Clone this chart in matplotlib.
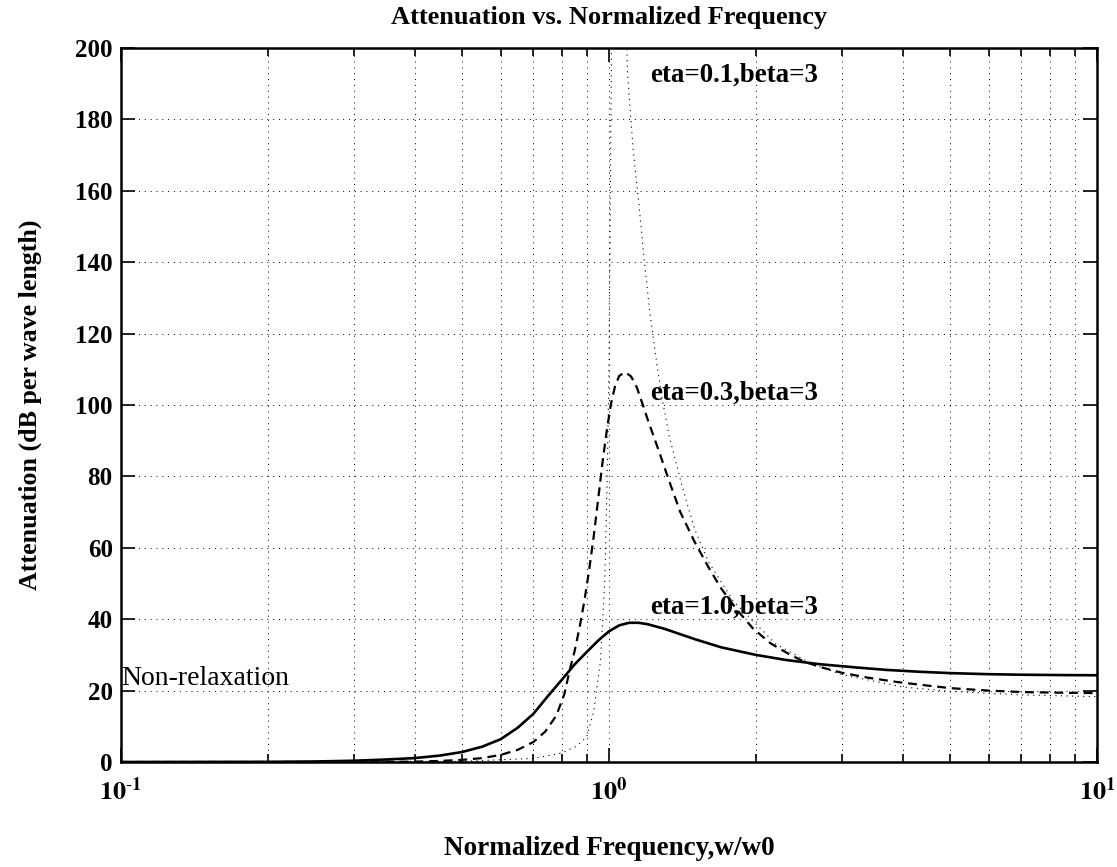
import numpy as np
import matplotlib
matplotlib.use("Agg")
import matplotlib.pyplot as plt
from matplotlib.ticker import FixedLocator, NullFormatter

plt.rcParams['font.family'] = ['Liberation Serif', 'DejaVu Serif']
plt.rcParams['mathtext.fontset'] = 'stix'

# values (normalized frequency w/w0, attenuation in dB per wavelength)
freq_eta10 = [0.1, 0.2, 0.25, 0.3, 0.35, 0.4, 0.45, 0.5, 0.55, 0.6, 0.65, 0.7, 0.75, 0.8,
              0.85, 0.9, 0.95, 1.0, 1.05, 1.1, 1.15, 1.2, 1.3, 1.4, 1.5, 1.7, 2.0, 2.3,
              2.7, 3.2, 3.7, 4.3, 5.0, 6.0, 7.0, 8.5, 10.0]
atten_eta10 = [0.0, 0.05, 0.15, 0.35, 0.7, 1.1, 1.8, 2.8, 4.3, 6.4, 9.6, 13.5, 18.5, 23.0,
               27.3, 30.8, 34.0, 36.6, 38.3, 39.0, 39.0, 38.6, 37.3, 35.8, 34.4, 32.1, 30.0,
               28.6, 27.4, 26.5, 25.8, 25.3, 24.9, 24.6, 24.45, 24.35, 24.3]

freq_eta03 = [0.1, 0.3, 0.4, 0.45, 0.5, 0.55, 0.6, 0.65, 0.7, 0.74, 0.78, 0.81, 0.83,
              0.85, 0.87, 0.89, 0.91, 0.93, 0.95, 0.97, 0.99, 1.01, 1.03, 1.05, 1.08, 1.11,
              1.14, 1.17, 1.2, 1.27, 1.33, 1.4, 1.5, 1.6, 1.7, 1.83, 1.97, 2.14, 2.32, 2.5,
              2.71, 3.0, 3.4, 3.9, 4.5, 5.0, 6.0, 7.0, 8.5, 10.0]
atten_eta03 = [0.0, 0.0, 0.1, 0.3, 0.6, 1.1, 2.0, 3.4, 5.6, 8.5, 13.0, 19.0, 25.5,
               31.0, 37.5, 45.0, 53.5, 63.0, 73.5, 84.0, 93.0, 100.5, 105.5, 108.2, 109.2,
               108.0, 105.0, 100.5, 96.0, 86.5, 78.5, 70.0, 61.5, 54.5, 48.5, 42.6, 37.5,
               33.3, 30.5, 28.2, 26.6, 25.0, 23.6, 22.4, 21.4, 20.7, 20.0, 19.6, 19.4, 19.3]

freq_eta01 = [0.1, 0.5, 0.7, 0.8, 0.86, 0.9, 0.93, 0.96, 0.98, 0.99, 1.0, 1.012, 1.03,
              1.05, 1.07, 1.09, 1.12, 1.15, 1.18, 1.21, 1.24, 1.28, 1.33, 1.42, 1.5, 1.6,
              1.8, 2.2, 2.6, 3.0, 4.0, 5.0, 7.0, 10.0]
atten_eta01 = [0.0, 0.2, 1.0, 2.5, 4.5, 7.0, 14.0, 28.0, 50.0, 75.0, 110.0, 200.0, 300.0,
               330.0, 280.0, 194.0, 172.0, 157.0, 141.0, 127.0, 116.0, 103.0, 91.0, 76.0,
               65.0, 56.0, 45.0, 33.0, 27.5, 24.5, 21.0, 19.8, 18.8, 18.3]

yticks = [0, 20, 40, 60, 80, 100, 120, 140, 160, 180, 200]
xticks = [0.1, 1.0, 10.0]
xticklabels = [r'$\mathbf{10^{\text{-}1}}$', r'$\mathbf{10^{0}}$', r'$\mathbf{10^{1}}$']

fig = plt.figure(figsize=(11.17, 8.67), dpi=100)
ax = fig.add_axes([0.1083, 0.1211, 0.9821 - 0.1083, 0.9446 - 0.1211])

ax.plot(freq_eta10, atten_eta10, color='black', lw=1.9, solid_capstyle='round')
ax.plot(freq_eta03, atten_eta03, color='black', lw=1.6, linestyle=(0, (4, 2.6)))
ax.plot(freq_eta01, atten_eta01, color='black', lw=0.8, linestyle=(0, (1, 4)))

ax.set_xscale('log')
ax.set_xlim(0.1, 10)
ax.set_ylim(0, 200)

ax.set_yticks(yticks)
ax.set_yticklabels([str(v) for v in yticks], fontsize=18, fontweight='bold')
ax.xaxis.set_major_locator(FixedLocator(xticks))
minor = [m * d for d in (0.1, 1.0) for m in range(2, 10)]
ax.xaxis.set_minor_locator(FixedLocator(minor))
ax.xaxis.set_minor_formatter(NullFormatter())
ax.set_xticklabels(xticklabels, fontsize=19)

ax.tick_params(which='both', direction='in', top=True, right=True, width=1.2)
ax.tick_params(which='major', length=10, pad=6)
ax.tick_params(which='minor', length=6)
ax.tick_params(axis='x', which='major', pad=11)

ax.grid(True, which='major', axis='both', color='black', linestyle=(0, (1, 5)), lw=0.7)
ax.grid(True, which='minor', axis='x', color='black', linestyle=(0, (1, 5)), lw=0.7)

for s in ax.spines.values():
    s.set_linewidth(1.8)

ax.set_title('Attenuation vs. Normalized Frequency', fontsize=19, fontweight='bold', pad=17)
ax.set_xlabel('Normalized Frequency,w/w0', fontsize=19.5, fontweight='bold', labelpad=22)
ax.set_ylabel('Attenuation (dB per wave length)', fontsize=18.7, fontweight='bold', labelpad=24)

ax.text(1.213, 192.5, 'eta=0.1,beta=3', fontsize=19.4, fontweight='bold', va='center', ha='left')
ax.text(1.213, 103.4, 'eta=0.3,beta=3', fontsize=19.4, fontweight='bold', va='center', ha='left')
ax.text(1.213, 43.4, 'eta=1.0,beta=3', fontsize=19.4, fontweight='bold', va='center', ha='left')
ax.text(0.1, 23.5, 'Non-relaxation', fontsize=20, va='center', ha='left')

fig.savefig('out.png', dpi=100)
